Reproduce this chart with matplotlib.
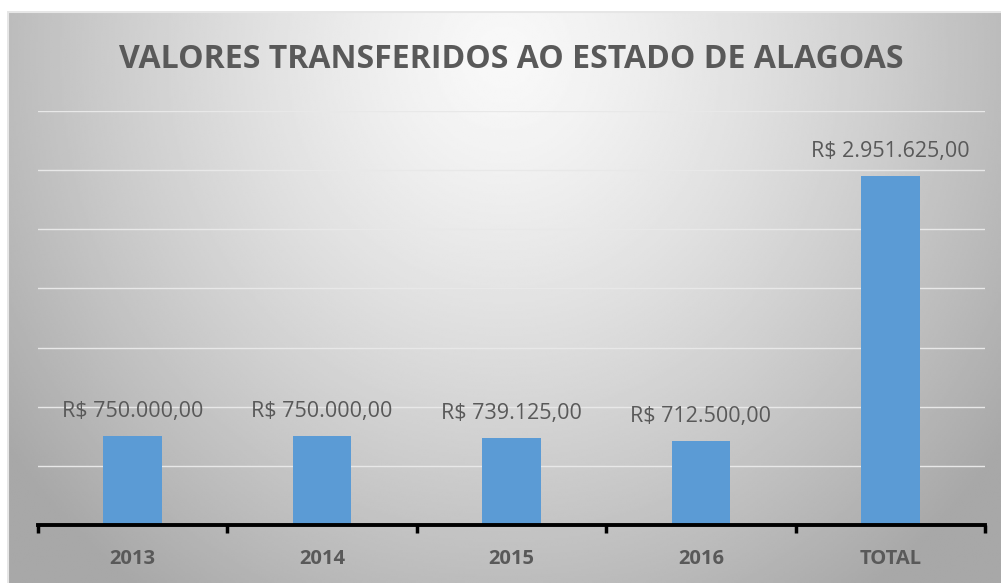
import matplotlib

matplotlib.use("Agg")

import matplotlib.pyplot as plt
import numpy as np
from matplotlib.ticker import FixedLocator, MultipleLocator

categories = ["2013", "2014", "2015", "2016", "TOTAL"]
values = [750000.00, 750000.00, 739125.00, 712500.00, 2951625.00]
labels = ["R$ 750.000,00", "R$ 750.000,00", "R$ 739.125,00", "R$ 712.500,00", "R$ 2.951.625,00"]
title = "VALORES TRANSFERIDOS AO ESTADO DE ALAGOAS"

W, H = 1001, 583
fig = plt.figure(figsize=(W / 100, H / 100), dpi=100)
fig.patch.set_facecolor("white")

# radial gray gradient background of the chart area
bg = fig.add_axes([7 / W, 0, 1 - 7 / W, 1 - 11 / H])
bg.set_axis_off()
ny, nx = 300, 500
yy, xx = np.mgrid[0:1:ny * 1j, 0:1:nx * 1j]
d = np.sqrt(((xx - 0.5) / 0.62) ** 2 + ((yy - 0.08) / 1.15) ** 2)
d = np.clip(d, 0, 1)
light, dark = 0.975, 0.66
img = light + (dark - light) * d ** 1.3
bg.imshow(img, cmap="gray", vmin=0, vmax=1, aspect="auto", extent=(0, 1, 1, 0), interpolation="bilinear")
bg.set_xlim(0, 1)
bg.set_ylim(1, 0)
bg.plot([0, 1], [0.002, 0.002], color="#e6e6e6", lw=1.5)
bg.plot([0.001, 0.001], [0, 1], color="#e6e6e6", lw=1.5)

ax = fig.add_axes([38 / W, 1 - 525 / H, (985 - 38) / W, (525 - 111) / H])
ax.patch.set_alpha(0)
x = np.arange(len(categories))
ax.bar(x, values, width=0.31, color="#5b9bd5", zorder=3)
ax.set_xlim(-0.5, len(categories) - 0.5)
ax.set_ylim(0, 3500000)
ax.yaxis.set_major_locator(MultipleLocator(500000))
ax.grid(axis="y", color="#e8e8e8", lw=1.0, zorder=1)
ax.tick_params(axis="y", left=False, labelleft=False)
for s in ["top", "right", "left"]:
    ax.spines[s].set_visible(False)
ax.spines["bottom"].set_linewidth(2.8)
ax.spines["bottom"].set_color("black")
ax.spines["bottom"].set_zorder(4)

ax.set_xticks(x)
ax.set_xticklabels(categories, fontsize=14.5, fontweight="bold", color="#595959",
                   fontfamily="Open Sans")
ax.tick_params(axis="x", which="major", length=0, pad=17)
ax.xaxis.set_minor_locator(FixedLocator(np.arange(-0.5, len(categories), 1.0)))
ax.tick_params(axis="x", which="minor", length=6, width=2.5, color="black", direction="out")

for xi, v, lab in zip(x, values, labels):
    ax.annotate(lab, (xi, v), xytext=(0, 10), textcoords="offset points", ha="center",
                va="bottom", fontsize=15.5, color="#595959", fontfamily="Open Sans")

fig.text(511 / W, 1 - 59 / H, title, ha="center", va="center", fontsize=23,
         fontweight="bold", color="#595959", fontfamily="Open Sans")

fig.savefig("out.png", dpi=100)
